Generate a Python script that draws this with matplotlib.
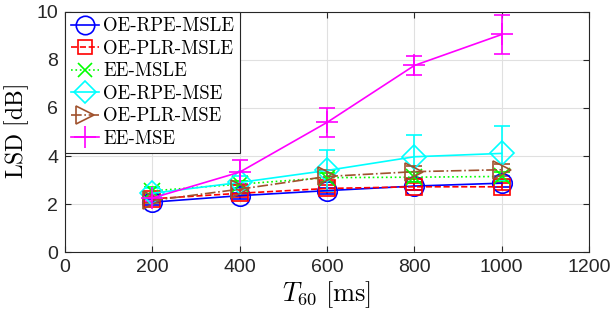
import numpy as np
import matplotlib.pyplot as plt
from matplotlib.lines import Line2D

plt.rcParams['font.family'] = ['Liberation Sans', 'DejaVu Sans']
plt.rcParams['mathtext.fontset'] = 'cm'

# reverberation times
t60 = [200, 400, 600, 800, 1000]

# LSD means and std per method
oe_rpe_msle = [2.08, 2.35, 2.56, 2.75, 2.87]
oe_rpe_msle_err = [0.12, 0.12, 0.12, 0.15, 0.15]
oe_plr_msle = [2.22, 2.45, 2.65, 2.72, 2.72]
oe_plr_msle_err = [0.12, 0.15, 0.15, 0.15, 0.15]
ee_msle = [2.55, 2.83, 3.1, 3.12, 3.15]
ee_msle_err = [0.15, 0.15, 0.2, 0.2, 0.2]
oe_rpe_mse = [2.45, 2.9, 3.4, 3.97, 4.11]
oe_rpe_mse_err = [0.2, 0.25, 0.85, 0.9, 1.12]
oe_plr_mse = [2.15, 2.62, 3.15, 3.35, 3.43]
oe_plr_mse_err = [0.12, 0.2, 0.25, 0.25, 0.25]
ee_mse = [2.25, 3.33, 5.4, 7.77, 9.06]
ee_mse_err = [0.12, 0.5, 0.6, 0.38, 0.82]

labels = ['OE-RPE-MSLE', 'OE-PLR-MSLE', 'EE-MSLE', 'OE-RPE-MSE', 'OE-PLR-MSE', 'EE-MSE']
series = [(oe_rpe_msle, oe_rpe_msle_err), (oe_plr_msle, oe_plr_msle_err),
          (ee_msle, ee_msle_err), (oe_rpe_mse, oe_rpe_mse_err),
          (oe_plr_mse, oe_plr_mse_err), (ee_mse, ee_mse_err)]
colors = ['#0000ff', '#ff0000', '#00ff00', '#00ffff', '#a0522d', '#ff00ff']
markers = ['o', 's', 'x', 'D', '>', '+']
styles = ['-', '--', ':', '-', '-.', '-']
msizes = [14, 11, 11, 12, 13, 16]

fig = plt.figure(figsize=(6.13, 3.22), dpi=100)
ax = fig.add_axes([0.106, 0.217, 0.855, 0.746])

handles = []
for (y, e), lab, c, m, ls, ms in zip(series, labels, colors, markers, styles, msizes):
    ax.errorbar(t60, y, yerr=e, color=c, marker=m, linestyle=ls,
                markersize=ms, markerfacecolor='none', markeredgecolor=c,
                markeredgewidth=1.2, linewidth=1.2, capsize=5.5, elinewidth=1.2)
    handles.append(Line2D([], [], color=c, marker=m, linestyle=ls, markersize=ms,
                          markerfacecolor='none', markeredgewidth=1.2, linewidth=1.2,
                          label=lab))

ax.set_xlim(0, 1200)
ax.set_ylim(0, 10)
ax.set_xticks(np.arange(0, 1201, 200))
ax.set_yticks(np.arange(0, 11, 2))
ax.grid(True, color='#e0e0e0', linewidth=0.8)
ax.set_axisbelow(True)
ax.tick_params(direction='in', top=True, right=True, labelsize=14, colors='#262626',
               length=4, pad=5)
for s in ax.spines.values():
    s.set_color('#262626')
ax.set_xlabel(r'$T_{60}\ \mathrm{[ms]}$', fontsize=19, labelpad=2)
ax.set_ylabel(r'$\mathrm{LSD\ [dB]}$', fontsize=17, labelpad=4)

leg = ax.legend(handles=handles, loc='upper left', fancybox=False, edgecolor='#262626',
                framealpha=1, borderaxespad=0, prop={'family': 'cmr10', 'size': 13.5},
                handlelength=1.5, handletextpad=0.25, labelspacing=0.24,
                borderpad=0.3, markerscale=0.95)
leg.get_frame().set_linewidth(0.8)

fig.savefig('out.png', dpi=100)
